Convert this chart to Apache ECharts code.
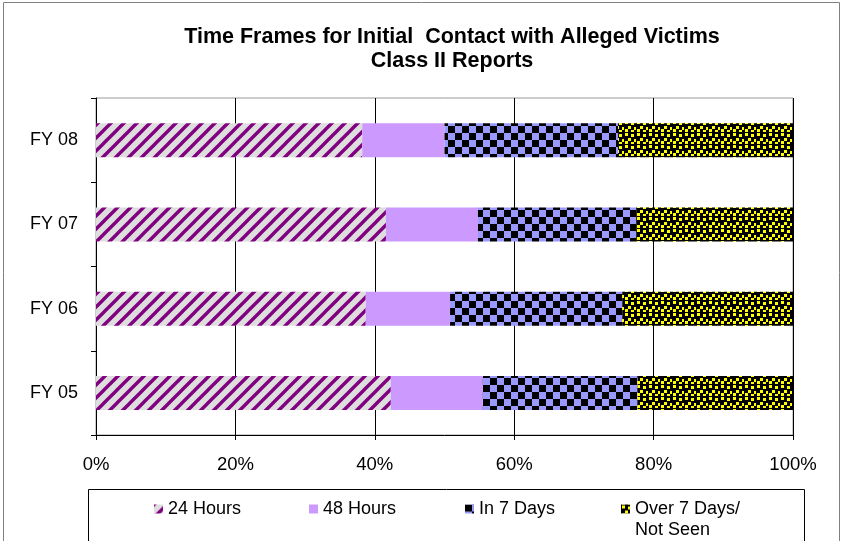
<!DOCTYPE html>
<html>
<head>
<meta charset="utf-8">
<script src="https://cdn.jsdelivr.net/npm/echarts@6/dist/echarts.min.js"></script>
<style>
    html, body { margin: 0; padding: 0; background: #fff; }
    #chart { width: 843px; height: 541px; }
</style>
</head>
<body>
<div id="chart"></div>
<script>
// 数据
const years = ['FY 05', 'FY 06', 'FY 07', 'FY 08']
const hours24 = [42.3, 38.7, 41.6, 38.2]
const hours48 = [13.2, 12.1, 13.2, 11.8]
const days7 = [22.2, 24.7, 22.7, 24.9]
const over7 = [22.3, 24.5, 22.5, 25.1]
const seriesNames = ['24 Hours', '48 Hours', 'In 7 Days', 'Over 7 Days/\nNot Seen']
const tickLabels = ['0%', '20%', '40%', '60%', '80%', '100%']

// 填充图案
function stripePattern() {
    let c = document.createElement('canvas')
    c.width = 13; c.height = 13
    let ctx = c.getContext('2d')
    ctx.fillStyle = '#dedede'
    ctx.fillRect(0, 0, 13, 13)
    ctx.strokeStyle = '#800080'
    ctx.lineWidth = 3.4
    ctx.beginPath()
    ctx.moveTo(-3, 16); ctx.lineTo(16, -3)
    ctx.moveTo(-10, 10); ctx.lineTo(10, -10)
    ctx.moveTo(3, 23); ctx.lineTo(23, 3)
    ctx.stroke()
    return c
}
function checkerPattern() {
    let c = document.createElement('canvas')
    c.width = 14; c.height = 14
    let ctx = c.getContext('2d')
    ctx.fillStyle = '#9999ff'
    ctx.fillRect(0, 0, 14, 14)
    ctx.fillStyle = '#000'
    ctx.fillRect(0, 0, 7, 7)
    ctx.fillRect(7, 7, 7, 7)
    return c
}
function confettiPattern() {
    let c = document.createElement('canvas')
    c.width = 12; c.height = 12
    let ctx = c.getContext('2d')
    ctx.fillStyle = '#000'
    ctx.fillRect(0, 0, 12, 12)
    ctx.fillStyle = '#ffff00'
    const dots = [[1, 1], [7, 2], [4, 6], [10, 7], [1, 9], [7, 10]]
    dots.forEach(d => ctx.fillRect(d[0], d[1], 3, 3))
    return c
}

const fills = [
    { image: stripePattern(), repeat: 'repeat' },
    '#cc99ff',
    { image: checkerPattern(), repeat: 'repeat' },
    { image: confettiPattern(), repeat: 'repeat' }
]
const datas = [hours24, hours48, days7, over7]

let myChart = echarts.init(document.getElementById('chart'))

// 每个图例单独放置，最后一个两行文字，图标对齐第一行
const legendLeft = [154, 309, 465, 621]
let legends = seriesNames.map((name, i) => ({
    data: [name],
    left: legendLeft[i],
    top: i === 3 ? 477.5 : 498.5,
    padding: 0,
    itemWidth: 9,
    itemHeight: 9,
    icon: 'rect',
    selectedMode: false,
    align: 'left',
    formatter: n => (i === 3 ? '\n' + n : n),
    textStyle: {
        fontFamily: 'Liberation Sans, Arial',
        fontSize: 18,
        color: '#000',
        lineHeight: 21
    }
}))

let option = {
    animation: false,
    title: {
        text: 'Time Frames for Initial  Contact with Alleged Victims\nClass II Reports',
        left: 452,
        top: 25,
        padding: 0,
        textAlign: 'center',
        textStyle: {
            fontFamily: 'Liberation Sans, Arial',
            fontSize: 21.5,
            fontWeight: 'bold',
            color: '#000',
            lineHeight: 24
        }
    },
    legend: legends,
    grid: {
        left: 96,
        right: 50,
        top: 98,
        bottom: 106,
        show: true,
        borderColor: '#999',
        borderWidth: 1
    },
    xAxis: {
        type: 'value',
        min: 0,
        max: 100,
        interval: 20,
        axisLine: { show: true, lineStyle: { color: '#000' } },
        axisTick: { show: true, length: 5, lineStyle: { color: '#000' } },
        splitLine: { show: true, lineStyle: { color: '#000' } },
        axisLabel: {
            margin: 20,
            fontFamily: 'Liberation Sans, Arial',
            fontSize: 18.5,
            color: '#000',
            formatter: v => tickLabels[v / 20]
        }
    },
    yAxis: {
        type: 'category',
        data: years,
        axisLine: { show: true, lineStyle: { color: '#000' } },
        axisTick: { show: true, length: 5, lineStyle: { color: '#000' } },
        axisLabel: {
            margin: 18,
            fontFamily: 'Liberation Sans, Arial',
            fontSize: 18,
            color: '#000'
        }
    },
    graphic: [
        {
            type: 'rect',
            shape: { x: 3.5, y: 2.5, width: 836, height: 560 },
            style: { fill: 'none', stroke: '#808080', lineWidth: 1 },
            silent: true
        },
        {
            type: 'rect',
            shape: { x: 88.5, y: 489.5, width: 716, height: 80 },
            style: { fill: 'none', stroke: '#000', lineWidth: 1 },
            silent: true
        }
    ],
    series: seriesNames.map((name, i) => ({
        name: name,
        type: 'bar',
        stack: 'total',
        barWidth: 34,
        itemStyle: { color: fills[i] },
        data: datas[i]
    }))
}
myChart.setOption(option)
</script>
</body>
</html>
